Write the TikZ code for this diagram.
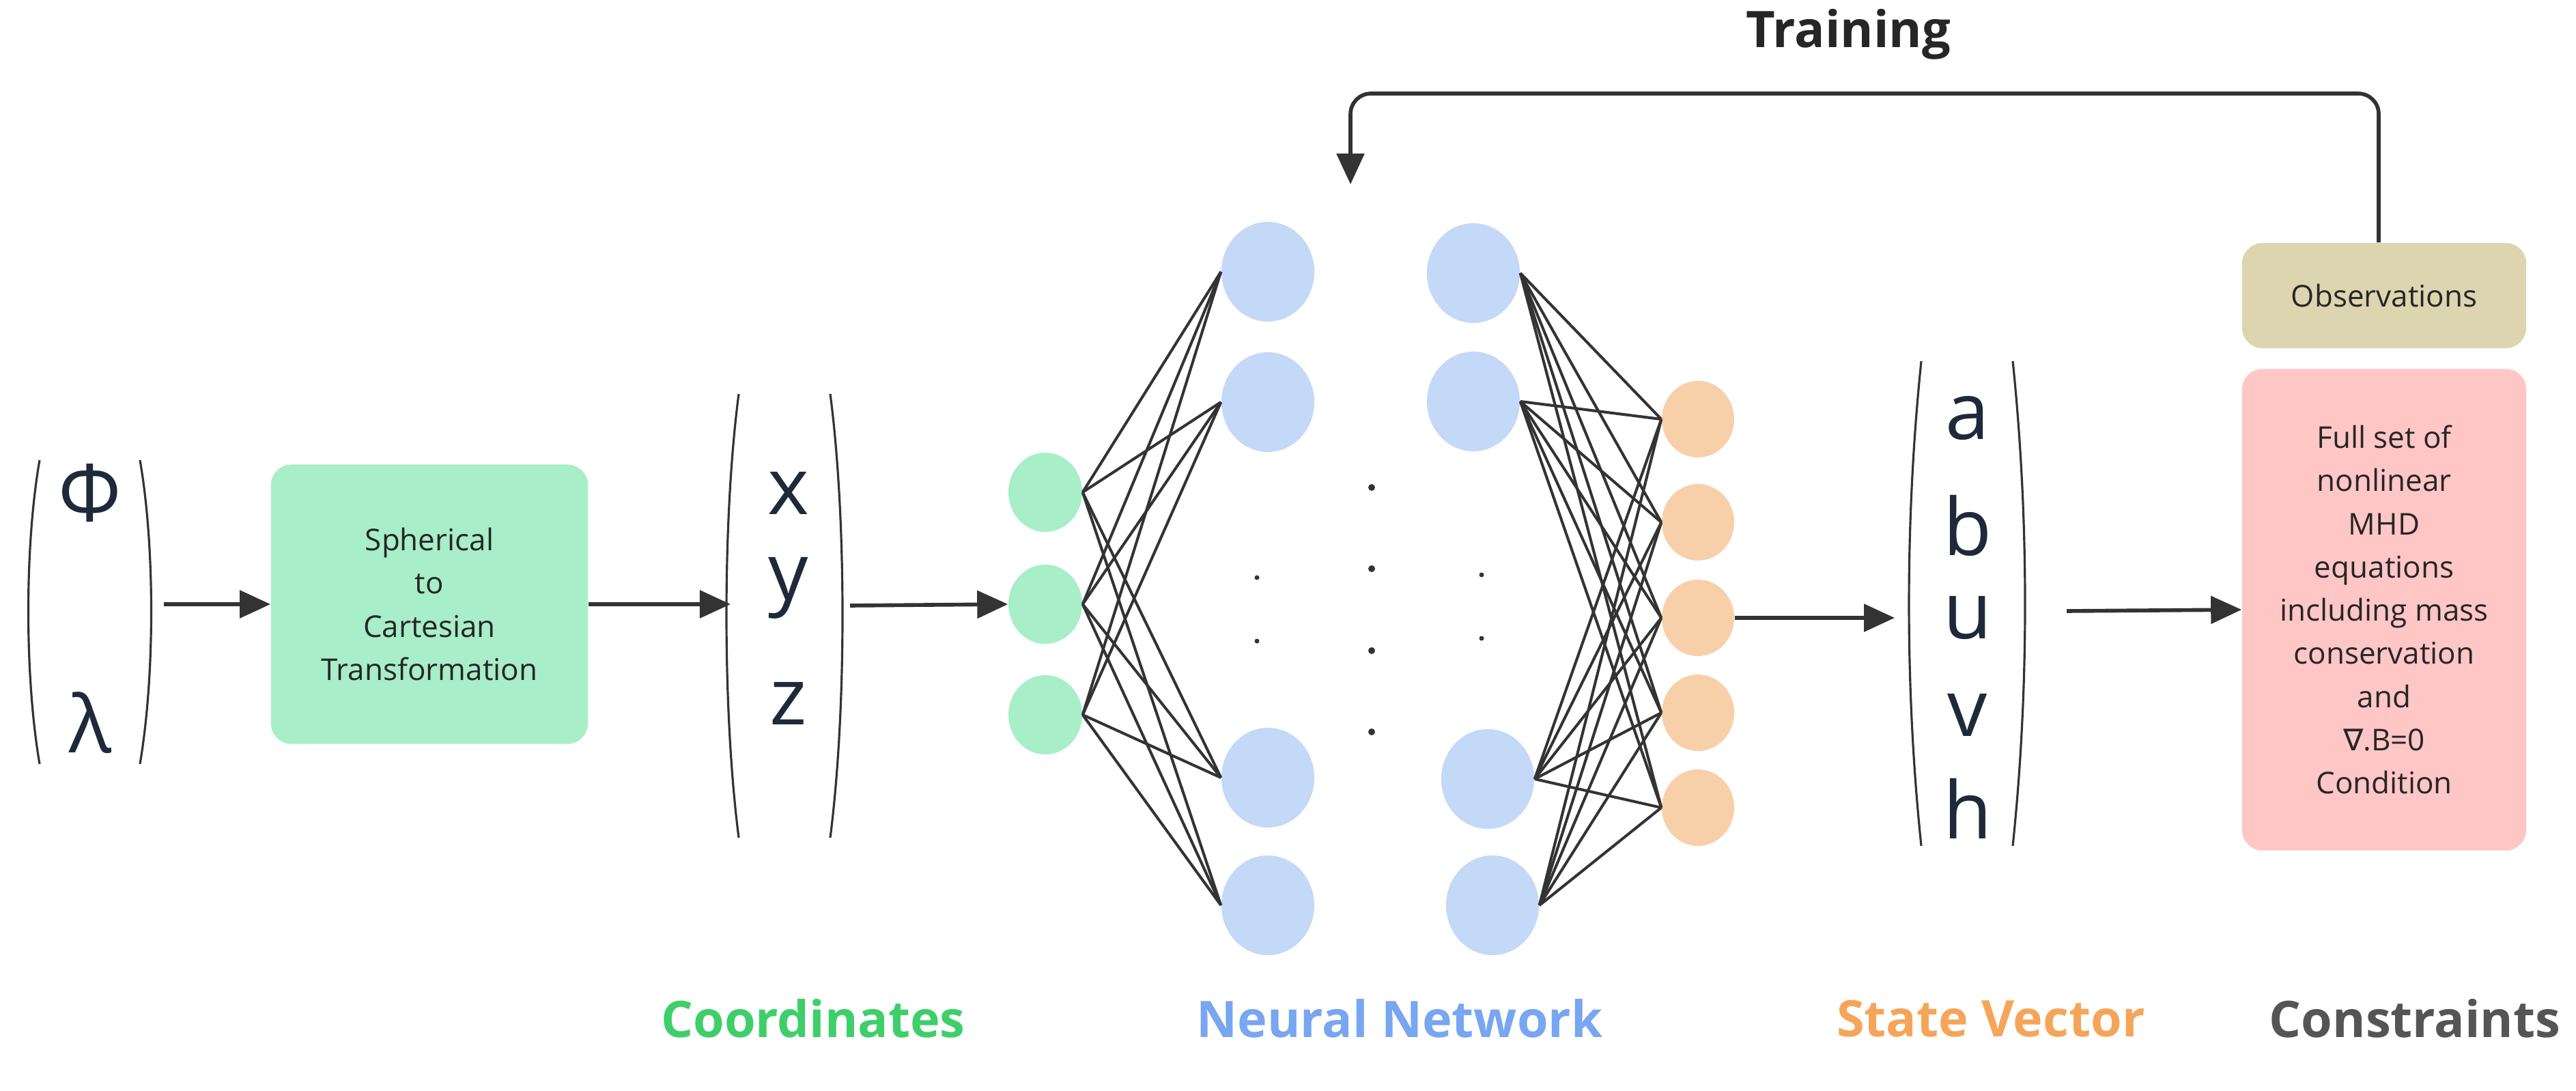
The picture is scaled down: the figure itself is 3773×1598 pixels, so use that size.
\documentclass[tikz,border=0pt]{standalone}
\usepackage{fontspec}
\setmainfont{Open Sans}
\newfontfamily\djv{DejaVu Sans}
\usetikzlibrary{shapes.geometric,arrows.meta}
\definecolor{ink}{HTML}{333333}
\definecolor{gfill}{HTML}{A8EEC8}
\definecolor{bfill}{HTML}{C4D8F8}
\definecolor{ofill}{HTML}{F7D0AA}
\definecolor{tfill}{HTML}{DCD5B0}
\definecolor{rfill}{HTML}{FFC6C6}
\definecolor{gtxt}{HTML}{3ECF6A}
\definecolor{btxt}{HTML}{78A6F0}
\definecolor{otxt}{HTML}{F5A55A}
\definecolor{ctxt}{HTML}{555555}
\definecolor{ltxt}{HTML}{1E2A3A}
\begin{document}
\begin{tikzpicture}[x=0.01cm,y=-0.01cm,
  neuron/.style={ellipse,draw=none,inner sep=0pt},
  gn/.style={neuron,fill=gfill,minimum width=1.08cm,minimum height=1.16cm},
  bn/.style={neuron,fill=bfill,minimum width=1.36cm,minimum height=1.46cm},
  on/.style={neuron,fill=ofill,minimum width=1.06cm,minimum height=1.12cm},
  edge/.style={draw=ink,line width=1.15pt},
  arr/.style={draw=ink,line width=1.6pt,-{Triangle[length=0.45cm,width=0.4cm]}},
  paren/.style={draw=ink,line width=0.9pt},
  big/.style={font=\fontsize{33}{36}\selectfont,text=ltxt},
  box/.style={rounded corners=0.3cm,align=center,text=black!85,font=\fontsize{12.5}{18}\selectfont},
  lab/.style={font=\fontsize{21}{24}\selectfont\bfseries}]
\useasboundingbox (0,0) rectangle (3773,1598);
% input vector
\node[big] (phi) at (132,722) {Φ};
\node[big] (lam) at (132,1059) {λ};
\draw[paren] (58,674) .. controls (36,800) and (36,990) .. (58,1119);
\draw[paren] (205,674) .. controls (227,800) and (227,990) .. (205,1119);
\coordinate (a1) at (240,885);
% transformation box
\node[box,fill=gfill,minimum width=4.64cm,minimum height=4.09cm] (sph) at (629,885) {Spherical\\to\\Cartesian\\Transformation};
\draw[arr] (a1) -- (sph.west);
% xyz vector
\node[big] (xx) at (1155,722) {x};
\node[big] (yy) at (1155,861) {y};
\node[big] (zz) at (1155,1030) {z};
\draw[paren] (1082,577) .. controls (1058,760) and (1058,1040) .. (1082,1227);
\draw[paren] (1216,577) .. controls (1240,760) and (1240,1040) .. (1216,1227);
\coordinate (a2) at (1070,885);
\draw[arr] (sph.east) -- (a2);
\coordinate (a3) at (1245,887);
% neurons
\node[gn] (g1) at (1531,721) {};
\node[gn] (g2) at (1531,885) {};
\node[gn] (g3) at (1531,1047) {};
\draw[arr] (a3) -- (g2.west);
\node[bn] (b1) at (1857,398) {};
\node[bn] (b2) at (1857,589) {};
\node[bn] (b3) at (1857,1139) {};
\node[bn] (b4) at (1857,1326) {};
\node[bn] (c1) at (2158,400) {};
\node[bn] (c2) at (2158,588) {};
\node[bn] (c3) at (2179,1141) {};
\node[bn] (c4) at (2186,1326) {};
\node[on] (o1) at (2487,614) {};
\node[on] (o2) at (2487,765) {};
\node[on] (o3) at (2487,905) {};
\node[on] (o4) at (2487,1044) {};
\node[on] (o5) at (2487,1183) {};
\foreach \g in {g1,g2,g3}
  \foreach \b in {b1,b2,b3,b4}
    \draw[edge] (\g.east) -- (\b.west);
\foreach \c in {c1,c2,c3,c4}
  \foreach \o in {o1,o2,o3,o4,o5}
    \draw[edge] (\c.east) -- (\o.west);
% dots
\foreach \y in {714,833,953,1072}
  \fill[ink] (2009,\y) circle (5);
\foreach \y in {846,939} {\fill[ink] (1841,\y) circle (3.5); \fill[ink] (2170,\y-4) circle (3.5);}
% state vector
\node[big] (sa) at (2882,613) {a};
\node[big] (sb) at (2882,770) {b};
\node[big] (su) at (2882,905) {u};
\node[big] (sv) at (2882,1047) {v};
\node[big] (sh) at (2882,1184) {h};
\draw[paren] (2814,529) .. controls (2790,760) and (2790,1010) .. (2814,1239);
\draw[paren] (2948,529) .. controls (2972,760) and (2972,1010) .. (2948,1239);
\coordinate (a4) at (2775,905);
\draw[arr] (o3.east) -- (a4);
\coordinate (a5) at (3027,895);
% constraints
\node[box,fill=tfill,minimum width=4.16cm,minimum height=1.54cm] (obs) at (3492,433) {Observations};
\node[box,fill=rfill,minimum width=4.16cm,minimum height=7.05cm] (con) at (3492,893) {Full set of\\nonlinear\\MHD\\equations\\including mass\\conservation\\and\\{\djv ∇}.B=0\\Condition};
\draw[arr] (a5) -- (con.west);
% training loop
\coordinate (t1) at (1978,270);
\draw[arr,rounded corners=0.3cm] (obs.north -| 3484,0) -- (3484,137) -- (1978,137) -- (t1);
\node[lab,text=black!85] (train) at (2707,50) {Training};
% labels
\node[lab,text=gtxt] (lc) at (1191,1492) {Coordinates};
\node[lab,text=btxt] (ln) at (2050,1492) {Neural Network};
\node[lab,text=otxt] (ls) at (2916,1492) {State Vector};
\node[lab,text=ctxt] (lk) at (3537,1492) {Constraints};
\end{tikzpicture}
\end{document}
